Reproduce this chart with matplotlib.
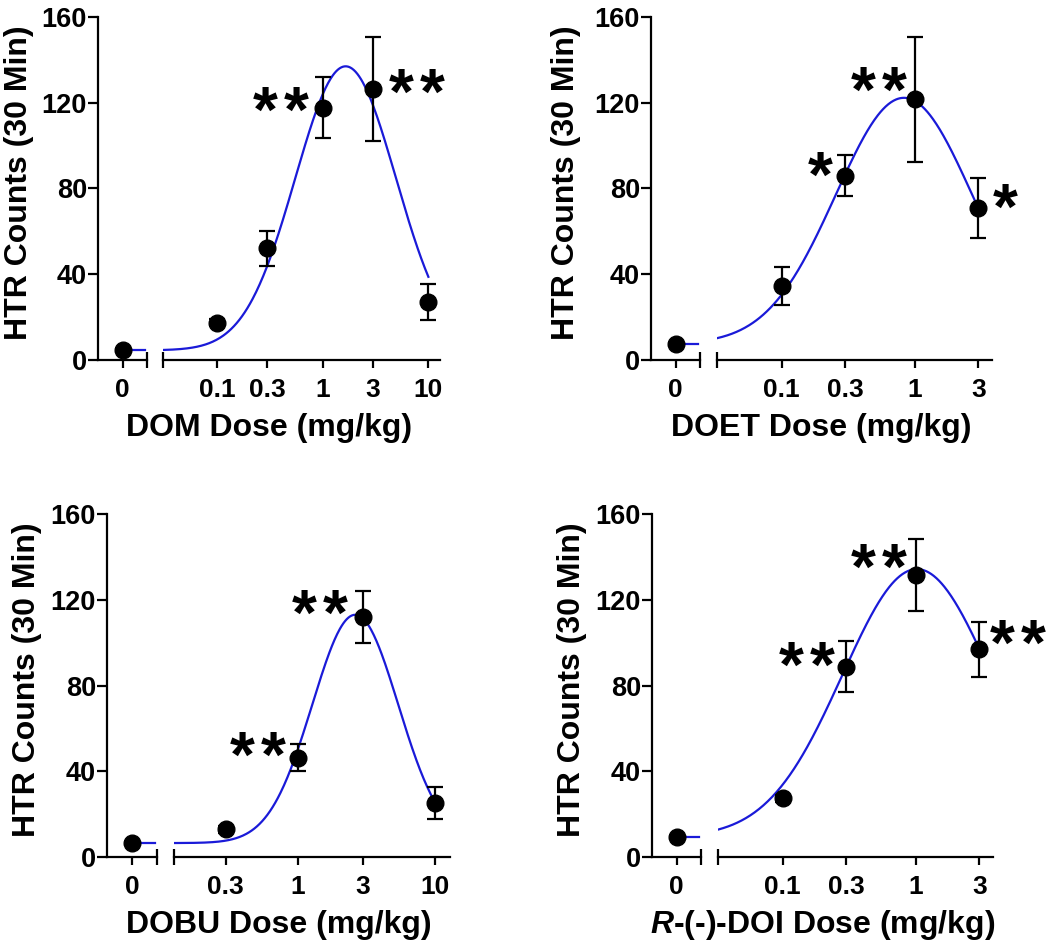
import numpy as np
import matplotlib
matplotlib.use("Agg")
import matplotlib.pyplot as plt

plt.rcParams['font.family'] = ['Liberation Sans', 'DejaVu Sans']
plt.rcParams['font.weight'] = 'bold'
plt.rcParams['mathtext.fontset'] = 'custom'
plt.rcParams['mathtext.it'] = 'Liberation Sans:italic:bold'
plt.rcParams['mathtext.rm'] = 'Liberation Sans:bold'

# ---- data (dose 0 = vehicle) ----
dom_dose = [0, 0.1, 0.3, 1, 3, 10]
dom_mean = [4.5, 17.4, 52.1, 117.7, 126.4, 26.9]
dom_sem = [1.0, 1.5, 8.2, 14.3, 24.2, 8.4]
dom_stars = ['', '', '', '**', '**', '']
dom_fit = [4.5, 132.5, 1.65, 0.476]       # bottom, amplitude, center (mg/kg), width (log units)

doet_dose = [0, 0.1, 0.3, 1, 3]
doet_mean = [7.5, 34.5, 86.0, 121.7, 70.8]
doet_sem = [1.0, 8.7, 9.6, 29.2, 14.1]
doet_stars = ['', '', '*', '**', '*']
doet_fit = [7.5, 114.8, 0.83, 0.512]

dobu_dose = [0, 0.3, 1, 3, 10]
dobu_mean = [6.5, 12.9, 46.3, 111.9, 25.2]
dobu_sem = [1.0, 1.5, 6.3, 12.3, 7.6]
dobu_stars = ['', '', '**', '**', '']
dobu_fit = [6.5, 106.5, 2.63, 0.313]

doi_dose = [0, 0.1, 0.3, 1, 3]
doi_mean = [9.3, 27.3, 88.8, 131.6, 96.9]
doi_sem = [1.0, 1.5, 11.9, 16.7, 12.9]
doi_stars = ['', '', '**', '**', '**']
doi_fit = [9.3, 125.0, 1.02, 0.558]

W, H = 1050, 947
fig = plt.figure(figsize=(W / 100, H / 100), dpi=100)
blue = '#1a1ad8'
STAR_FS = 46
STAR_GAP = 31   # px between the two stars of "**"


def px_axes(x0, x1, ytop, ybot):
    return fig.add_axes([x0 / W, 1 - ybot / H, (x1 - x0) / W, (ybot - ytop) / H])


def panel(dose, mean, sem, stars, fit, xlabel, ticks, ticklabels, logx, box, star_off, ylab_x):
    yaxis_x, zero_end, log_start, log_end, ytop, ybot = box
    ax0 = px_axes(yaxis_x, zero_end, ytop, ybot)
    ax1 = px_axes(log_start, log_end, ytop, ybot)

    for ax in (ax0, ax1):
        ax.set_ylim(0, 160)
        ax.spines['top'].set_visible(False)
        ax.spines['right'].set_visible(False)
        ax.spines['bottom'].set_linewidth(1.6)
        ax.spines['left'].set_linewidth(1.6)
        ax.tick_params(width=1.6, length=6, labelsize=19, pad=7)
        ax.patch.set_alpha(0)
    ax0.set_xlim(-1, 1)
    ax0.set_xticks([0])
    ax0.set_xticklabels(['0'])
    ax0.set_yticks([0, 40, 80, 120, 160])
    ax0.tick_params(axis='y', length=7, pad=1, labelsize=19.5)

    ax1.spines['left'].set_visible(False)
    ax1.set_yticks([])
    ax1.set_xscale('log')
    ax1.set_xlim(10 ** logx[0], 10 ** logx[1])
    ax1.set_xticks(ticks)
    ax1.set_xticklabels(ticklabels)
    ax1.minorticks_off()

    # break marks at the ends of the two x-axis pieces
    ax0.plot([1], [0], marker='|', ms=11, mew=1.6, color='k', transform=ax0.transAxes, clip_on=False)
    ax1.plot([0], [0], marker='|', ms=11, mew=1.6, color='k', transform=ax1.transAxes, clip_on=False)

    bottom, amp, center, width = fit
    # fitted gaussian on log dose
    xs = np.logspace(logx[0], np.log10(dose[-1]), 300)
    ys = bottom + amp * np.exp(-(np.log10(xs) - np.log10(center)) ** 2 / (2 * width ** 2))
    ax1.plot(xs, ys, color=blue, lw=1.6, zorder=2)
    ax0.plot([0, 0.92], [bottom, bottom], color=blue, lw=1.6, zorder=2)

    ax0.errorbar(dose[:1], mean[:1], yerr=sem[:1], fmt='o', color='k', ms=12,
                 capsize=6, elinewidth=1.6, capthick=1.6, zorder=3, clip_on=False)
    ax1.errorbar(dose[1:], mean[1:], yerr=sem[1:], fmt='o', color='k', ms=12,
                 capsize=6, elinewidth=1.6, capthick=1.6, zorder=3, clip_on=False)

    # asterisks: offsets give the centre of the group, shift to baseline
    lift = 0.5 * STAR_FS * 100 / 72
    k = 0
    for d, m, s in zip(dose, mean, stars):
        if s:
            dx, dy = star_off[k]
            n = len(s)
            for i in range(n):
                sx = dx + (i - (n - 1) / 2) * STAR_GAP
                ax1.annotate('*', (d, m), xytext=(sx, dy - lift), textcoords='offset pixels',
                             ha='center', va='baseline', fontsize=STAR_FS, fontweight='bold')
            k += 1

    xc = (yaxis_x + log_end) / 2
    fig.text(xc / W, 1 - (ybot + 68) / H, xlabel, ha='center', va='center',
             fontsize=23, fontweight='bold')
    yc = (ytop + ybot) / 2 - 6
    fig.text(ylab_x / W, 1 - yc / H, 'HTR Counts (30 Min)', rotation=90,
             ha='center', va='center', fontsize=23, fontweight='bold')


panel(dom_dose, dom_mean, dom_sem, dom_stars, dom_fit, 'DOM Dose (mg/kg)',
      [0.1, 0.3, 1, 3, 10], ['0.1', '0.3', '1', '3', '10'], (-1.51, 1.11),
      (98, 147, 163, 440, 17, 360), [(-42, 8), (44, 7)], 19)
panel(doet_dose, doet_mean, doet_sem, doet_stars, doet_fit, 'DOET Dose (mg/kg)',
      [0.1, 0.3, 1, 3], ['0.1', '0.3', '1', '3'], (-1.485, 0.58),
      (651, 700, 717, 992, 17, 360), [(-25, 11), (-36, 19), (27, 11)], 566)
panel(dobu_dose, dobu_mean, dobu_sem, dobu_stars, dobu_fit, 'DOBU Dose (mg/kg)',
      [0.3, 1, 3, 10], ['0.3', '1', '3', '10'], (-0.90, 1.11),
      (107, 157, 174, 450, 514, 857), [(-40, 13), (-43, 14)], 27)
panel(doi_dose, doi_mean, doi_sem, doi_stars, doi_fit, r'$\mathit{R}$-(-)-DOI Dose (mg/kg)',
      [0.1, 0.3, 1, 3], ['0.1', '0.3', '1', '3'], (-1.485, 0.58),
      (652, 701, 718, 993, 514, 857), [(-39, 12), (-37, 18), (38, 16)], 572)

fig.savefig('out.png', dpi=100)
